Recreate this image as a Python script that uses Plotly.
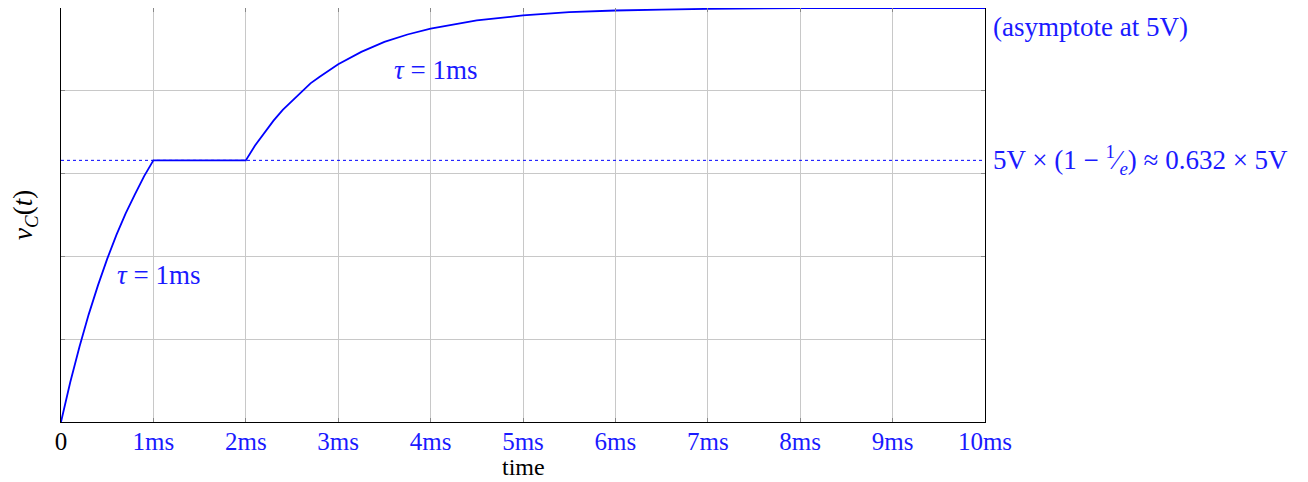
import plotly.graph_objects as go

# time in ms, capacitor voltage in V
t_ms = [0, 0.1, 0.2, 0.3, 0.4, 0.5, 0.6, 0.7, 0.8, 0.9, 1.0,
        2.0, 2.1, 2.2, 2.3, 2.4, 2.5, 2.6, 2.7, 2.8, 2.9, 3.0, 3.25, 3.5, 3.75, 4.0, 4.5,
        5.0, 5.5, 6.0, 6.5, 7.0, 8.0, 9.0, 10.0]
v_c = [0.0, 0.48, 0.91, 1.30, 1.65, 1.97, 2.26, 2.52, 2.75, 2.97, 3.16,
       3.16, 3.34, 3.49, 3.64, 3.77, 3.88, 3.99, 4.09, 4.17, 4.25, 4.32, 4.47, 4.59, 4.68, 4.75, 4.85,
       4.91, 4.95, 4.97, 4.98, 4.99, 5.0, 5.0, 5.0]
threshold_v = 3.16
x_ticks = [0, 1, 2, 3, 4, 5, 6, 7, 8, 9, 10]
x_tick_labels = ["0", "1ms", "2ms", "3ms", "4ms", "5ms", "6ms", "7ms", "8ms", "9ms", "10ms"]
y_ticks = [0, 1, 2, 3, 4, 5]

BLUE = "#0000ff"
TXT_BLUE = "#1a1aff"
FONT = "Liberation Serif"
FS = 25
FA = 27

fig = go.Figure()
fig.add_trace(go.Scatter(x=t_ms, y=v_c, mode="lines", line=dict(color=BLUE, width=1.8),
                         showlegend=False, hoverinfo="skip"))
fig.add_trace(go.Scatter(x=[0, 10], y=[threshold_v, threshold_v], mode="lines",
                         line=dict(color=BLUE, width=1, dash="dot"), showlegend=False, hoverinfo="skip"))

ticktext = [x_tick_labels[0]] + [f"<span style='color:{TXT_BLUE}'>{s}</span>" for s in x_tick_labels[1:]]

fig.update_layout(
    width=1300, height=474,
    margin=dict(l=53, r=323, t=0, b=60),
    plot_bgcolor="white", paper_bgcolor="white",
    font=dict(family=FONT, size=FS, color="black"),
    xaxis=dict(range=[0, 10], tickvals=x_ticks, ticktext=ticktext, showgrid=True, gridcolor="#c8c8c8", gridwidth=1,
               ticks="inside", ticklen=4, tickcolor="#888", mirror="all", showline=True, linecolor="black", linewidth=1,
               zeroline=False, tickfont=dict(size=FS), ticklabelstandoff=-3, automargin=False),
    yaxis=dict(range=[0, 5], tickvals=y_ticks, showticklabels=False, showgrid=True, gridcolor="#c8c8c8", gridwidth=1,
               ticks="inside", ticklen=4, tickcolor="#888", mirror="all", showline=True, linecolor="black", linewidth=1,
               zeroline=False, automargin=False),
)

# axis titles
fig.add_annotation(x=0.5, y=-0.143, xref="paper", yref="paper", text="time", showarrow=False,
                   xanchor="center", yanchor="bottom", borderpad=0, font=dict(size=24))
fig.add_annotation(x=-0.039, y=0.5, xref="paper", yref="paper", text="<i>v</i><sub><i>C</i></sub>(<i>t</i>)",
                   showarrow=False, textangle=-90, xanchor="center", yanchor="middle", font=dict(size=FA))

fig.add_annotation(x=0.58, y=1.77, xref="x", yref="y", text="<i>τ</i> = 1ms", showarrow=False,
                   xanchor="left", yanchor="middle", font=dict(color=TXT_BLUE, size=FA))
fig.add_annotation(x=3.58, y=4.25, xref="x", yref="y", text="<i>τ</i> = 1ms", showarrow=False,
                   xanchor="left", yanchor="middle", font=dict(color=TXT_BLUE, size=FA))
fig.add_annotation(x=1.0, y=4.77, xref="paper", yref="y", xshift=6, text="(asymptote at 5V)", showarrow=False,
                   xanchor="left", yanchor="middle", font=dict(color=TXT_BLUE, size=FA))
fig.add_annotation(x=1.0, y=threshold_v, xref="paper", yref="y", xshift=6,
                   text="5V × (1 − <sup>1</sup>⁄<sub><i>e</i></sub>) ≈ 0.632 × 5V", showarrow=False,
                   xanchor="left", yanchor="middle", font=dict(color=TXT_BLUE, size=FA))

fig.write_html("out.html")
